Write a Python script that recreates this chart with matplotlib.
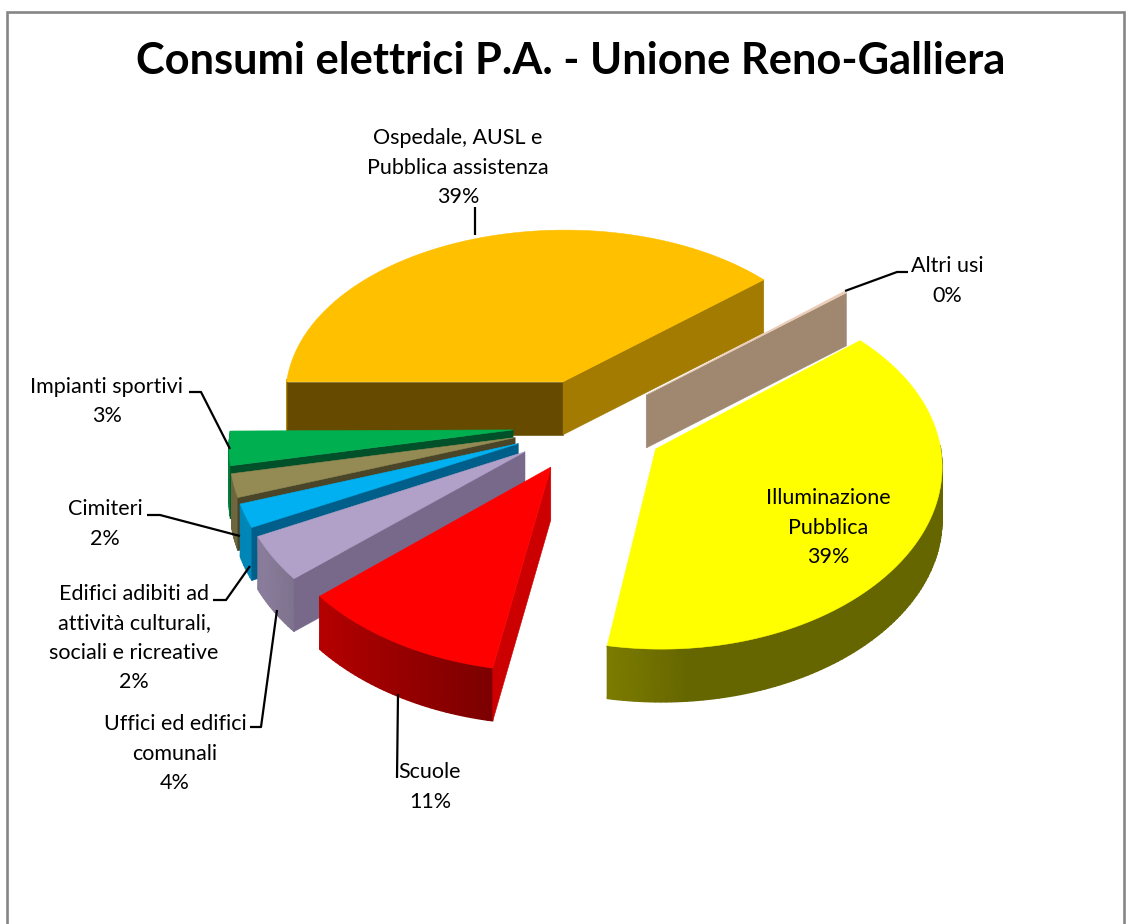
import numpy as np
import matplotlib
matplotlib.use("Agg")
import matplotlib.pyplot as plt
from matplotlib.colors import to_rgb, LinearSegmentedColormap

# Electricity use by category, percent of total
categories = ["Ospedale, AUSL e\nPubblica assistenza", "Altri usi",
              "Illuminazione\nPubblica", "Scuole",
              "Uffici ed edifici\ncomunali",
              "Edifici adibiti ad\nattività culturali,\nsociali e ricreative",
              "Cimiteri", "Impianti sportivi"]
values = [38.7, 0.2, 38.9, 10.8, 4.0, 2.1, 2.1, 3.1]

top_colors = ["#FFC000", "#EBCDB8", "#FFFF00", "#FF0000",
              "#B1A0C7", "#00B0F0", "#948A54", "#00B050"]
start_walls = ["#664A00", "#A08770", "#666600", "#CC0000",
               "#78688A", "#005F8A", "#4A4528", "#00502A"]
end_walls = ["#A37B00", "#A08770", "#666600", "#A00000",
             "#78688A", "#005F8A", "#4A4528", "#00502A"]

# Projection of the tilted pie onto the pixel-sized axes
CX, CY = 589, 425
A, B = 282, 175
KX, KY = 0.08, 0.10
EXPLODE = 0.27
DEPTH = 53
FIRST_ANGLE = 270.0


def project(x, y):
    return CX + A * x / (1 + KX * y), CY - B * y / (1 + KY * y)


def rim_shade(angle):
    """Brightness of the outer wall for a clockwise angle from the top."""
    return np.interp(angle % 360, [0, 175, 240, 300, 360],
                     [0.40, 0.40, 0.78, 0.62, 0.40])


fig = plt.figure(figsize=(11.26, 9.24), dpi=100, facecolor="white")
ax = fig.add_axes([0, 0, 1, 1])
ax.set_xlim(0, 1126)
ax.set_ylim(924, 0)
ax.axis("off")
plt.rcParams["font.family"] = ["Lato", "DejaVu Sans"]

# Chart frame, open at the bottom edge
ax.plot([7, 7, 1124, 1124], [924, 12, 12, 924], color="#868686", lw=1.9, zorder=1,
        solid_joinstyle="miter")

sweeps = np.array(values) * 3.6
starts = FIRST_ANGLE + np.concatenate(([0], np.cumsum(sweeps)[:-1]))
draw_order = [0, 1, 7, 6, 5, 4, 3, 2]  # back to front

z = 2
for i in draw_order:
    a0, a1 = starts[i], starts[i] + sweeps[i]
    mid = np.radians((a0 + a1) / 2)
    ox, oy = EXPLODE * np.sin(mid), EXPLODE * np.cos(mid)
    n = max(int(sweeps[i]) + 2, 2)
    th = np.linspace(a0, a1, n)
    px, py = project(ox + np.sin(np.radians(th)), oy + np.cos(np.radians(th)))
    apx, apy = project(ox, oy)

    # Outer wall: only the part turned towards the viewer, smoothly shaded
    facing = np.cos(np.radians(th)) < 0.03
    if facing.sum() >= 2:
        cmap = LinearSegmentedColormap.from_list("rim", ["black", to_rgb(top_colors[i])])
        xm = np.vstack([px[facing], px[facing]])
        ym = np.vstack([py[facing], py[facing] + DEPTH])
        cm = np.vstack([rim_shade(th[facing]), rim_shade(th[facing])])
        ax.pcolormesh(xm, ym, cm, shading="gouraud", cmap=cmap, vmin=0, vmax=1, zorder=z)
        z += 1

    # Radial walls, skipping those that face away from the viewer
    walls = []
    if np.sin(np.radians(a0)) < 0:
        walls.append((0, start_walls[i]))
    if np.sin(np.radians(a1)) > 0:
        walls.append((-1, end_walls[i]))
    for k, wall_color in walls:
        wall = [(apx, apy), (px[k], py[k]), (px[k], py[k] + DEPTH), (apx, apy + DEPTH)]
        ax.add_patch(plt.Polygon(wall, closed=True, fc=wall_color, ec=wall_color,
                                 lw=0.4, zorder=z))
        z += 1

    # Top face
    outline = [(apx, apy)] + list(zip(px, py))
    ax.add_patch(plt.Polygon(outline, closed=True, fc=top_colors[i], ec=top_colors[i],
                             lw=0.4, zorder=z))
    z += 1

# Leader lines from the labels to their slices
leaders = [[(475, 235), (475, 207)],
           [(845, 291), (897, 272), (908, 272)],
           [(189, 392), (201, 392), (230, 449)],
           [(147, 515), (160, 515), (240, 536)],
           [(213, 600), (226, 600), (250, 566)],
           [(250, 727), (261, 727), (277, 610)],
           [(397, 778), (398, 694)]]
for path in leaders:
    xs, ys = zip(*path)
    ax.plot(xs, ys, color="black", lw=1.6, zorder=z, solid_capstyle="butt")

# Label anchors: centre x and vertical centre of each text block
label_pos = [(458, 167.5), (947, 281), (828, 527.5), (430, 787),
             (175, 753.5), (134, 638), (105, 524), (107, 401.5)]
for name, v, (lx, ly) in zip(categories, values, label_pos):
    ax.text(lx, ly, f"{name}\n{v:.0f}%", ha="center", va="center", fontsize=15.5,
            color="black", linespacing=1.59, zorder=z + 1)

ax.text(571, 61, "Consumi elettrici P.A. - Unione Reno-Galliera", ha="center",
        va="center", fontsize=31.2, fontweight="bold", color="black", zorder=z + 1)

fig.savefig("out.png", dpi=100, facecolor="white")
